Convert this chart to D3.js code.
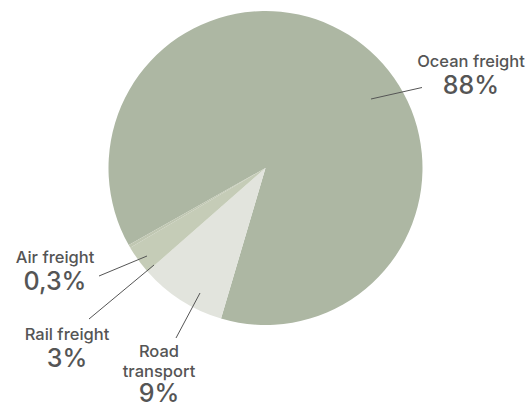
<!DOCTYPE html>
<html>
<head>
<meta charset="utf-8">
<script src="https://cdn.jsdelivr.net/npm/d3@7"></script>
<style>
  html, body { margin: 0; padding: 0; background: #fff; }
  svg { display: block; }
  text { font-family: Inter, "Noto Sans", sans-serif; fill: #555; }
</style>
</head>
<body>
<svg id="chart" width="528" height="408"></svg>
<script>
// Freight modes and their shares (percent)
const categories = ["Ocean freight", "Road transport", "Rail freight", "Air freight"];
const shares = [88, 9, 3, 0.3];
const shareLabels = ["88%", "9%", "3%", "0,3%"];
const colors = ["#adb7a3", "#e2e4dd", "#c5ccb7", "#c0c7b2"];

// Label placement per category: name lines, anchor point for text, leader line ends
const labelLayout = [
  { lines: ["Ocean freight"], x: 471, y: 67, line: [[371, 99], [422, 87.5]] },
  { lines: ["Road", "transport"], x: 159, y: 357, line: [[200, 293], [176, 338]] },
  { lines: ["Rail freight"], x: 67, y: 340, line: [[154, 265], [89, 319]] },
  { lines: ["Air freight"], x: 55, y: 263, line: [[147, 256], [99, 276]] }
];

const svg = d3.select("#chart");
const cx = 265.5, cy = 168, radius = 157;

const start = 240.6 * Math.PI / 180;
const pie = d3.pie().sort(null).value(d => d).startAngle(start).endAngle(start + 2 * Math.PI);
const arc = d3.arc().innerRadius(0).outerRadius(radius);

const g = svg.append("g").attr("transform", `translate(${cx},${cy})`);
g.selectAll("path")
  .data(pie(shares))
  .join("path")
  .attr("d", arc)
  .attr("fill", (d, i) => colors[i]);

// Leader lines
svg.selectAll("line.leader")
  .data(labelLayout)
  .join("line")
  .attr("class", "leader")
  .attr("x1", d => d.line[0][0]).attr("y1", d => d.line[0][1])
  .attr("x2", d => d.line[1][0]).attr("y2", d => d.line[1][1])
  .attr("stroke", "#555").attr("stroke-width", 1);

// Labels: category name followed by the share in a larger size
const lineGap = 19.5;
labelLayout.forEach((l, i) => {
  const t = svg.append("g");
  l.lines.forEach((s, j) => {
    t.append("text")
      .attr("x", l.x).attr("y", l.y + j * lineGap)
      .attr("text-anchor", "middle")
      .style("font-size", "16.5px")
      .style("font-weight", 500)
      .text(s);
  });
  t.append("text")
    .attr("x", l.x).attr("y", l.y + (l.lines.length - 1) * lineGap + (i === 1 ? 25.5 : 27))
    .attr("text-anchor", "middle")
    .style("font-size", "25px")
    .style("font-weight", 500)
    .text(shareLabels[i]);
});
</script>
</body>
</html>
